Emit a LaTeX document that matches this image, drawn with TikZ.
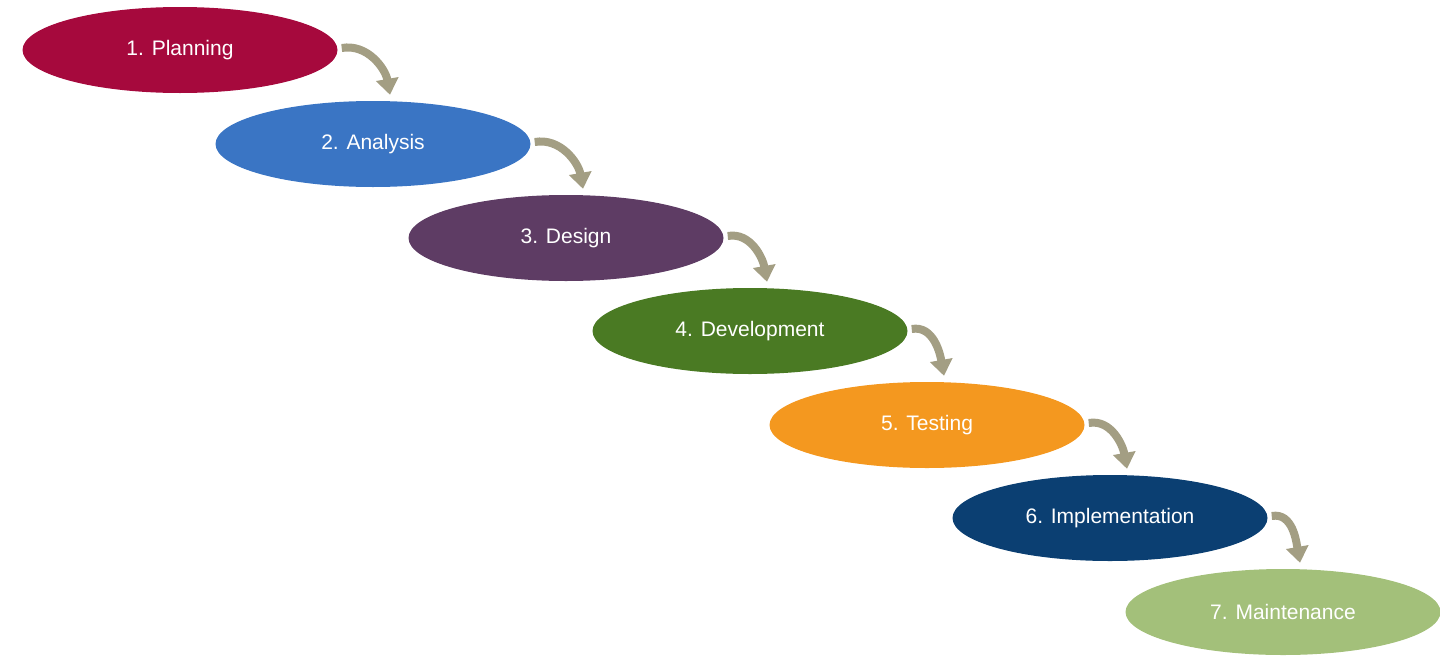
\documentclass[tikz,border=0pt]{standalone}
\usepackage{fontspec}
\setmainfont{Liberation Sans}
\usetikzlibrary{shapes.geometric,arrows.meta,calc}

\definecolor{cplan}{HTML}{A6093D}
\definecolor{cana}{HTML}{3A75C4}
\definecolor{cdes}{HTML}{5E3C64}
\definecolor{cdev}{HTML}{4A7A23}
\definecolor{ctest}{HTML}{F4981F}
\definecolor{cimpl}{HTML}{0B3F72}
\definecolor{cmaint}{HTML}{A3C07A}
\definecolor{cflow}{HTML}{A39E83}

\tikzset{
  phase/.style={ellipse, fill=#1, text=white, minimum width=315pt, minimum height=86pt,
    inner sep=0pt, font=\fontsize{21}{24}\selectfont},
  flow/.style={draw=cflow, line width=8pt, -{Triangle[length=16pt,width=22pt]}}
}

\begin{document}
\begin{tikzpicture}[x=1pt,y=-1pt]
  \useasboundingbox (0,0) rectangle (1440,656);
  % phases
  \node (p1) at (180,50)   [phase=cplan]  {1. Planning};
  \node (p2) at (373,144)  [phase=cana]   {2. Analysis};
  \node (p3) at (566,238)  [phase=cdes]   {3. Design};
  \node (p4) at (750,331)  [phase=cdev]   {4. Development};
  \node (p5) at (927,425)  [phase=ctest]  {5. Testing};
  \node (p6) at (1110,518) [phase=cimpl]  {6. Implementation};
  \node (p7) at (1283,612) [phase=cmaint] {7. Maintenance};

  % flow arrows
  \foreach \a/\b in {p1/p2,p2/p3,p3/p4,p4/p5,p5/p6,p6/p7}
    \draw [flow] ($(\a.east)+(4,-2)$) to[out=10,in=100] ($(\b.north)+(17,-6)$);
\end{tikzpicture}
\end{document}
